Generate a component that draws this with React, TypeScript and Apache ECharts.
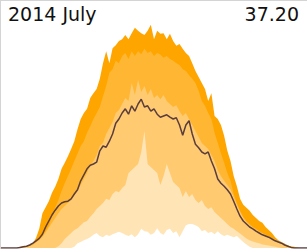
import React, { useEffect, useRef } from "react";
import * as echarts from "echarts";

// 15-minute slots, 00:00 .. 24:00
const times: string[] = Array.from({ length: 97 }, (_, i) => {
  const h = Math.floor(i / 4);
  const m = (i % 4) * 15;
  return `${String(h).padStart(2, "0")}:${String(m).padStart(2, "0")}`;
});

const titleText = "2014 July";
const peakText = "37.20";

const maxValues = [
  0, 0, 0, 0, 0, 0, 0.2, 0.3, 0.3, 0.5, 0.8, 1.7, 3.2, 5.8, 6.8, 7.8, 9.2, 10.2, 11.5, 13.2,
  14.2, 15.3, 16.5, 17.8, 19.8, 21.5, 22.5, 23.2, 25.0, 25.8, 26.5, 28.2, 30.8, 32.8, 30.8, 33.3, 33.8, 34.5, 34.8, 35.5,
  34.8, 35.8, 36.7, 36.2, 35.8, 35.5, 36.2, 37.2, 34.8, 36.2, 35.7, 35.8, 34.8, 35.7, 34.5, 33.7, 34.0, 33.2, 32.5, 32.0,
  30.8, 29.5, 28.5, 27.5, 26.5, 24.5, 25.8, 22.0, 21.5, 20.5, 18.7, 16.2, 14.5, 12.0, 10.3, 8.2, 7.2, 6.7, 6.2, 5.5,
  5.0, 4.5, 4.2, 3.5, 3.0, 2.5, 1.8, 1.3, 1.0, 0.7, 0.4, 0.3, 0.2, 0.1, 0, 0, 0,
];

const p90Values = [
  0, 0, 0, 0, 0, 0, 0.1, 0.2, 0.3, 0.4, 0.6, 1.0, 1.6, 2.2, 2.8, 3.7, 5.2, 6.7, 8.0, 9.5,
  10.8, 12.0, 13.2, 14.5, 15.7, 17.0, 17.8, 19.2, 20.3, 21.5, 22.5, 23.5, 25.3, 27.0, 29.2, 29.8, 31.2, 30.8, 32.0, 32.5,
  31.5, 32.8, 32.0, 32.8, 32.3, 33.2, 32.5, 32.8, 32.0, 32.5, 32.2, 31.7, 32.0, 31.5, 31.2, 30.8, 30.5, 29.8, 29.5, 28.8,
  28.2, 27.5, 26.2, 24.5, 23.7, 22.5, 21.5, 19.2, 17.5, 15.8, 14.2, 12.5, 11.2, 9.0, 7.5, 6.2, 5.2, 4.5, 4.0, 3.5,
  3.2, 2.8, 2.5, 2.2, 1.9, 1.7, 1.4, 1.2, 0.9, 0.7, 0.4, 0.2, 0.1, 0, 0, 0, 0,
];

const p75Values = [
  0, 0, 0, 0, 0, 0, 0, 0.1, 0.2, 0.3, 0.5, 0.9, 1.3, 1.8, 2.6, 3.4, 4.2, 5.0, 5.8, 6.5,
  7.0, 7.5, 8.0, 8.8, 9.5, 10.5, 11.5, 12.5, 13.8, 14.5, 15.5, 17.0, 17.5, 19.0, 20.0, 21.0, 22.5, 23.0, 24.0, 25.0,
  24.5, 27.5, 25.5, 28.0, 26.0, 27.0, 25.5, 26.5, 25.0, 25.5, 24.8, 25.5, 24.5, 24.0, 23.5, 23.8, 22.8, 22.0, 22.5, 21.5,
  20.5, 19.5, 18.5, 17.5, 17.0, 16.5, 15.5, 14.5, 13.0, 12.0, 11.2, 10.5, 9.8, 8.5, 7.2, 6.0, 5.0, 4.3, 3.8, 3.4,
  3.0, 2.7, 2.4, 2.1, 1.9, 1.6, 1.3, 1.1, 0.8, 0.6, 0.3, 0.1, 0, 0, 0, 0, 0,
];

const p25Values = [
  0, 0, 0, 0, 0, 0, 0, 0, 0, 0, 0, 0, 0, 0, 0, 0, 0, 0, 0.3, 0.8,
  1.5, 2.0, 2.5, 3.0, 3.3, 3.8, 4.3, 4.5, 5.2, 5.8, 6.5, 7.0, 7.5, 8.2, 8.0, 9.0, 9.5, 9.3, 10.0, 10.5,
  12.5, 13.0, 13.5, 14.0, 16.0, 19.5, 14.0, 13.5, 13.0, 12.5, 10.5, 12.0, 14.0, 12.5, 11.0, 10.5, 10.0, 8.5, 9.5, 8.5,
  9.0, 8.0, 7.5, 8.0, 7.0, 6.5, 6.8, 6.0, 5.5, 5.0, 4.5, 4.0, 3.5, 3.2, 2.8, 2.4, 2.0, 1.6, 1.3, 1.1,
  0.9, 0.8, 0.6, 0.5, 0.4, 0.3, 0.2, 0.1, 0, 0, 0, 0, 0, 0, 0, 0, 0,
];

const minValues = [
  0, 0, 0, 0, 0, 0, 0, 0, 0, 0, 0, 0, 0, 0, 0, 0, 0, 0, 0, 0,
  0, 0, 0, 0.2, 0.8, 1.0, 1.3, 1.5, 1.8, 2.2, 2.5, 2.0, 1.8, 2.2, 2.0, 2.3, 2.5, 2.7, 2.5, 2.2,
  2.0, 2.3, 1.8, 2.3, 3.2, 2.8, 2.7, 2.2, 2.5, 3.3, 2.5, 2.2, 3.0, 3.2, 2.5, 2.8, 1.8, 2.8, 3.8, 4.0,
  4.0, 3.8, 3.5, 2.8, 3.0, 2.5, 2.7, 2.3, 2.8, 2.3, 2.0, 2.2, 2.0, 1.8, 2.0, 1.5, 1.0, 0.6, 0.2, 0,
  0, 0, 0, 0, 0, 0, 0, 0, 0, 0, 0, 0, 0, 0, 0, 0, 0,
];

const meanValues = [
  0, 0, 0, 0, 0, 0, 0.1, 0.2, 0.3, 0.5, 0.8, 1.2, 1.6, 2.3, 3.5, 4.5, 5.5, 6.3, 7.0, 7.5,
  7.7, 7.8, 8.2, 9.0, 9.7, 11.2, 12.2, 13.2, 13.8, 14.0, 14.3, 16.2, 17.0, 16.8, 17.8, 19.0, 20.8, 21.5, 22.5, 23.2,
  22.3, 23.7, 22.8, 24.0, 24.8, 23.5, 23.7, 22.8, 23.2, 22.3, 21.8, 22.0, 22.2, 21.8, 21.5, 21.7, 20.5, 18.8, 20.5, 21.2,
  19.0, 17.3, 16.7, 16.0, 15.7, 16.0, 14.5, 13.2, 11.5, 10.8, 10.3, 9.7, 9.0, 7.8, 6.5, 5.3, 4.5, 4.0, 3.5, 3.2,
  2.8, 2.5, 2.2, 2.0, 1.8, 1.5, 1.2, 1.0, 0.8, 0.5, 0.3, 0.1, 0, 0, 0, 0, 0,
];

const bandColors = ["#ffa500", "#ffb733", "#ffca70", "#ffe4b5", "#ffffff"];
const meanColor = "#5a3d3d";

export default function App() {
  const ref = useRef<HTMLDivElement>(null);

  useEffect(() => {
    if (!ref.current) return;
    const chart = echarts.init(ref.current, null, { renderer: "svg" });
    const bands = [maxValues, p90Values, p75Values, p25Values, minValues];
    const bandNames = ["max", "p90", "p75", "p25", "min"];
    chart.setOption({
      animation: false,
      backgroundColor: "#ffffff",
      grid: { left: 1, right: 0, top: 0, bottom: 1 },
      xAxis: {
        type: "category",
        data: times,
        boundaryGap: false,
        show: false,
      },
      yAxis: {
        type: "value",
        min: 0,
        max: 41.33,
        show: false,
      },
      series: [
        ...bands.map((d, k) => ({
          name: bandNames[k],
          type: "line",
          data: d,
          symbol: "none",
          lineStyle: { width: 0 },
          areaStyle: { color: bandColors[k], opacity: 1 },
          silent: true,
          z: 2 + k,
        })),
        {
          name: "mean",
          type: "line",
          data: meanValues,
          symbol: "none",
          lineStyle: { width: 1.5, color: meanColor },
          z: 10,
        },
      ],
      graphic: [
        {
          type: "line",
          shape: { x1: 0.5, y1: 0, x2: 0.5, y2: 249 },
          style: { stroke: "#d4d4d4", lineWidth: 1 },
          z: 100,
        },
        {
          type: "line",
          shape: { x1: 0, y1: 0.5, x2: 307, y2: 0.5 },
          style: { stroke: "#d4d4d4", lineWidth: 1 },
          z: 100,
        },
        {
          type: "text",
          x: 8,
          y: 14.4,
          style: {
            text: titleText,
            font: '19px "DejaVu Sans"',
            fill: "#111111",
            textAlign: "left",
            textVerticalAlign: "middle",
          },
          z: 100,
        },
        {
          type: "text",
          x: 299,
          y: 14.4,
          style: {
            text: peakText,
            font: '19px "DejaVu Sans"',
            fill: "#111111",
            textAlign: "right",
            textVerticalAlign: "middle",
          },
          z: 100,
        },
      ],
    });
    return () => chart.dispose();
  }, []);

  return (
    <div
      ref={ref}
      style={{ position: "absolute", left: 0, top: 0, width: 307, height: 249 }}
    />
  );
}
